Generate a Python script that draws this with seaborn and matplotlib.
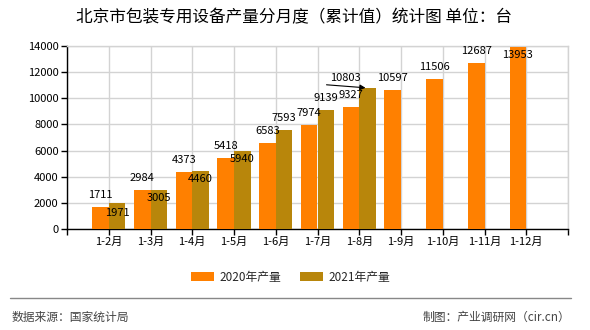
import numpy as np
import pandas as pd
import matplotlib
matplotlib.use("Agg")
import matplotlib.pyplot as plt
from matplotlib.lines import Line2D
import seaborn as sns

# ---- data ----
months = ["1-2月", "1-3月", "1-4月", "1-5月", "1-6月", "1-7月", "1-8月",
          "1-9月", "1-10月", "1-11月", "1-12月"]
prod_2020 = [1711, 2984, 4373, 5418, 6583, 7974, 9327, 10597, 11506, 12687, 13953]
prod_2021 = [1971, 3005, 4460, 5940, 7593, 9139, 10803]
series_names = ["2020年产量", "2021年产量"]
y_ticks = [0, 2000, 4000, 6000, 8000, 10000, 12000, 14000]

# label vertical offsets (pixels) relative to bar top
label_dy_2020 = [12, 12, 12, 12, 12, 12, 12, 12, 12, 12, -8]
label_dy_2021 = [-10, -8, -8, -8, 12, 12, None]

sns.set_theme(style="white")
plt.rcParams["font.family"] = ["Noto Sans CJK SC", "DejaVu Sans"]

rows = []
for m, v in zip(months, prod_2020):
    rows.append({"month": m, "series": series_names[0], "value": v})
for m, v in zip(months, prod_2021):
    rows.append({"month": m, "series": series_names[1], "value": v})
df = pd.DataFrame(rows)

colors = ["#FF8000", "#B8860B"]

fig = plt.figure(figsize=(5.9, 3.3), dpi=100)
ax = fig.add_axes([67/590, 1-229/330, (568-67)/590, (229-46)/330])

sns.barplot(data=df, x="month", y="value", hue="series", order=months,
            hue_order=series_names, palette=colors, width=0.8, saturation=1,
            ax=ax, legend=True, zorder=3, linewidth=0, edgecolor="none")

ax.set_xlim(-1, len(months))
ax.set_ylim(0, 14000)
ax.set_yticks(y_ticks)
ax.set_yticklabels([str(t) for t in y_ticks], fontsize=8, color="black")
ticks = list(range(-1, len(months) + 1))
ax.set_xticks(ticks)
ax.set_xticklabels([""] + months + [""], fontsize=8, color="black")
ax.set_xlabel("")
ax.set_ylabel("")

ax.grid(True, color="#d3d3d3", linewidth=1, zorder=0)
ax.set_axisbelow(True)
for s in ["top", "right"]:
    ax.spines[s].set_color("#d3d3d3")
    ax.spines[s].set_linewidth(1)
for s in ["left", "bottom"]:
    ax.spines[s].set_color("black")
    ax.spines[s].set_linewidth(1)
ax.tick_params(axis="both", which="both", direction="out", length=4,
               width=1, color="black", pad=2, bottom=True, left=True)

# data labels
c2020, c2021 = ax.containers[0], ax.containers[1]
for bar, v, dy in zip(c2020, prod_2020, label_dy_2020):
    x = bar.get_x() + bar.get_width() / 2
    ax.annotate(str(v), (x, v), xytext=(0, dy), textcoords="offset pixels",
                ha="center", va="center", fontsize=8, color="black", zorder=5)
for bar, v, dy in zip(c2021, prod_2021, label_dy_2021):
    x = bar.get_x() + bar.get_width() / 2
    if dy is None:
        ax.annotate(str(v), (x, v), xytext=(-22, 10), textcoords="offset pixels",
                    ha="center", va="center", fontsize=8, color="black", zorder=5)
        ax.annotate("", xy=(x - 0.05, v), xytext=(-39, 3), textcoords="offset pixels",
                    arrowprops=dict(arrowstyle="-|>", color="black", lw=0.8,
                                    mutation_scale=8, shrinkA=0, shrinkB=0),
                    zorder=5)
    else:
        ax.annotate(str(v), (x, v), xytext=(0, dy), textcoords="offset pixels",
                    ha="center", va="center", fontsize=8, color="black", zorder=5)

# legend
handles, labels = ax.get_legend_handles_labels()
ax.legend_.remove()
fig.legend(handles, labels, loc="center", bbox_to_anchor=(291/590, 1-277/330),
           ncol=2, frameon=False, fontsize=8.5, handlelength=1.9, handleheight=0.8,
           handletextpad=0.5, columnspacing=1.6)

# title
fig.text(294/590, 1-18/330, "北京市包装专用设备产量分月度（累计值）统计图 单位：台",
         ha="center", va="center", fontsize=12, color="black")

# footer
fig.add_artist(Line2D([10/590, 571/590], [1-298/330, 1-298/330],
                      color="#888888", linewidth=1))
fig.text(12/590, 1-317/330, "数据来源：国家统计局", ha="left", va="center",
         fontsize=8.5, color="#444444")
fig.text(570/590, 1-317/330, "制图：产业调研网（cir.cn）", ha="right", va="center",
         fontsize=8.5, color="#444444")

fig.savefig("out.png", dpi=100)
